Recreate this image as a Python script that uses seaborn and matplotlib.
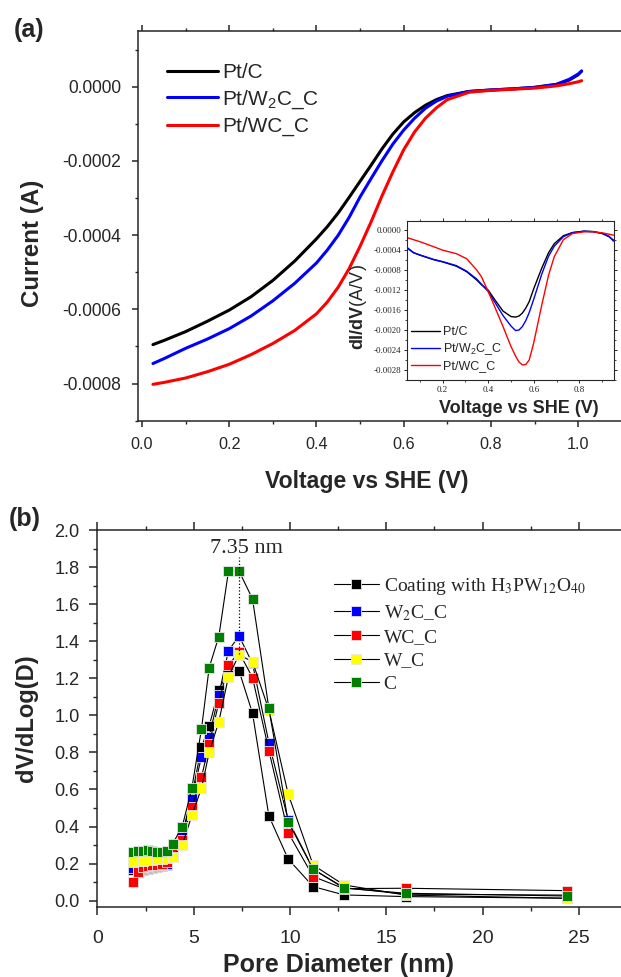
import numpy as np
import pandas as pd
import matplotlib
matplotlib.use("Agg")
import matplotlib.pyplot as plt
import seaborn as sns
from matplotlib.ticker import MultipleLocator, FuncFormatter
from matplotlib.font_manager import FontProperties, fontManager

sns.set_theme(style="ticks")
names = {f.name for f in fontManager.ttflist}
NARROW = "Liberation Sans Narrow" if "Liberation Sans Narrow" in names else "Liberation Sans"
SHRINK = 1.0 if NARROW == "Liberation Sans Narrow" else 0.87
plt.rcParams['font.family'] = ['Liberation Sans', 'DejaVu Sans']
plt.rcParams['axes.unicode_minus'] = False
plt.rcParams['mathtext.fontset'] = 'custom'
plt.rcParams['mathtext.rm'] = 'Liberation Sans'
plt.rcParams['mathtext.bf'] = 'Liberation Sans:bold'

# ---------------- panel (a) data: polarization curves ----------------
volt = [0.025, 0.05, 0.1, 0.15, 0.2, 0.25, 0.3, 0.35, 0.4, 0.425, 0.45, 0.475, 0.5,
        0.525, 0.55, 0.575, 0.6, 0.625, 0.65, 0.675, 0.7, 0.75, 0.8, 0.85, 0.9,
        0.95, 0.98, 1.0, 1.008]
cur_ptc = [-6.95e-4, -6.84e-4, -6.60e-4, -6.32e-4, -6.02e-4, -5.66e-4, -5.22e-4, -4.70e-4,
           -4.10e-4, -3.77e-4, -3.40e-4, -2.98e-4, -2.55e-4, -2.12e-4, -1.68e-4, -1.28e-4,
           -9.5e-5, -7.0e-5, -5.0e-5, -3.5e-5, -2.4e-5, -1.3e-5, -9e-6, -6e-6, -2e-6,
           6e-6, 1.8e-5, 3.2e-5, 4.2e-5]
cur_w2c = [-7.46e-4, -7.33e-4, -7.05e-4, -6.80e-4, -6.52e-4, -6.18e-4, -5.77e-4, -5.30e-4,
           -4.75e-4, -4.40e-4, -4.00e-4, -3.52e-4, -2.97e-4, -2.48e-4, -2.00e-4, -1.55e-4,
           -1.17e-4, -8.5e-5, -5.8e-5, -3.9e-5, -2.6e-5, -1.3e-5, -9e-6, -6e-6, -2e-6,
           6e-6, 2.0e-5, 3.4e-5, 4.2e-5]
cur_wc = [-8.02e-4, -7.97e-4, -7.85e-4, -7.68e-4, -7.48e-4, -7.22e-4, -6.92e-4, -6.57e-4,
          -6.12e-4, -5.80e-4, -5.40e-4, -4.90e-4, -4.30e-4, -3.65e-4, -2.95e-4, -2.30e-4,
          -1.70e-4, -1.22e-4, -8.5e-5, -5.7e-5, -3.5e-5, -1.5e-5, -1.0e-5, -7e-6, -4e-6,
          2e-6, 8e-6, 1.3e-5, 1.6e-5]

# inset: dI/dV
v_in = [0.045, 0.072, 0.1, 0.13, 0.16, 0.2, 0.26, 0.305, 0.35, 0.37, 0.4, 0.43, 0.465,
        0.5, 0.52, 0.535, 0.55, 0.565, 0.58, 0.6, 0.635, 0.665, 0.69, 0.73, 0.77, 0.82,
        0.86, 0.9, 0.93, 0.95]
didv_ptc = [-3.6e-4, -4.5e-4, -5.0e-4, -5.45e-4, -5.9e-4, -6.35e-4, -7.2e-4, -8.3e-4,
            -1.0e-3, -1.09e-3, -1.2e-3, -1.40e-3, -1.62e-3, -1.73e-3, -1.74e-3, -1.72e-3,
            -1.66e-3, -1.56e-3, -1.43e-3, -1.17e-3, -0.76e-3, -0.45e-3, -0.27e-3, -1.1e-4,
            -4.7e-5, -2.0e-5, -2.7e-5, -6.7e-5, -1.3e-4, -2.0e-4]
didv_w2c = [-3.5e-4, -4.5e-4, -4.95e-4, -5.4e-4, -5.85e-4, -6.3e-4, -7.1e-4, -8.2e-4,
            -9.8e-4, -1.08e-3, -1.23e-3, -1.45e-3, -1.71e-3, -1.92e-3, -2.01e-3, -2.00e-3,
            -1.93e-3, -1.81e-3, -1.65e-3, -1.38e-3, -0.88e-3, -0.52e-3, -0.32e-3, -1.3e-4,
            -5.0e-5, -2.0e-5, -3.0e-5, -6.0e-5, -1.2e-4, -2.2e-4]
didv_wc = [-1.5e-4, -1.9e-4, -2.3e-4, -2.8e-4, -3.3e-4, -4.0e-4, -4.7e-4, -5.7e-4,
           -8.0e-4, -9.3e-4, -1.23e-3, -1.55e-3, -1.93e-3, -2.33e-3, -2.52e-3, -2.64e-3,
           -2.70e-3, -2.69e-3, -2.60e-3, -2.25e-3, -1.50e-3, -0.90e-3, -0.53e-3, -1.9e-4,
           -6.7e-5, -3.3e-5, -3.3e-5, -5.3e-5, -8.0e-5, -1.0e-4]

# ---------------- panel (b) data: pore size distribution ----------------
pore = [1.85, 2.1, 2.35, 2.6, 2.85, 3.1, 3.35, 3.6, 3.9, 4.4, 4.9, 5.4, 5.8, 6.3, 6.8,
        7.35, 8.05, 8.9, 9.9, 11.2, 12.8, 16.0, 24.4]
dv_coat = [0.165, 0.16, 0.165, 0.17, 0.175, 0.18, 0.185, 0.19, 0.24, 0.36, 0.565, 0.828,
           0.943, 1.137, 1.24, 1.241, 1.011, 0.457, 0.225, 0.076, 0.031, 0.022, 0.013]
dv_w2c = [0.175, 0.17, 0.175, 0.18, 0.185, 0.19, 0.195, 0.2, 0.25, 0.345, 0.55, 0.777,
          0.885, 1.11, 1.349, 1.428, 1.28, 0.853, 0.435, 0.17, 0.07, 0.035, 0.03]
dv_wc = [0.103, 0.157, 0.18, 0.185, 0.19, 0.195, 0.2, 0.21, 0.265, 0.33, 0.504, 0.666,
         0.846, 1.069, 1.272, 1.34, 1.204, 0.81, 0.367, 0.13, 0.065, 0.067, 0.054]
dv_w = [0.21, 0.215, 0.215, 0.22, 0.22, 0.225, 0.225, 0.23, 0.237, 0.30, 0.46, 0.607,
        0.80, 0.966, 1.209, 1.326, 1.29, 1.029, 0.576, 0.192, 0.085, 0.03, 0.013]
dv_c = [0.262, 0.27, 0.268, 0.275, 0.27, 0.265, 0.265, 0.27, 0.306, 0.40, 0.607, 0.927,
        1.258, 1.425, 1.777, 1.779, 1.628, 1.038, 0.427, 0.169, 0.068, 0.04, 0.025]
peak_d = 7.35

fig = plt.figure(figsize=(6.21, 9.77), dpi=100)

# ================= (a) main =================
ax = fig.add_axes([0.2217, 0.5694, 0.7795, 0.3989])
for y, c, lab in [(cur_ptc, 'black', 'Pt/C'), (cur_w2c, '#0000ff', r'Pt/W$_2$C_C'),
                  (cur_wc, '#ff0000', 'Pt/WC_C')]:
    sns.lineplot(x=volt, y=y, color=c, lw=2.2, label=lab, ax=ax, sort=False)
ax.set_xlim(-0.01, 1.1)
ax.set_ylim(-0.0009, 0.00015)
ax.xaxis.set_major_locator(MultipleLocator(0.2))
ax.xaxis.set_minor_locator(MultipleLocator(0.1))
ax.yaxis.set_major_locator(MultipleLocator(0.0002))
ax.yaxis.set_minor_locator(MultipleLocator(0.0001))
ax.yaxis.set_major_formatter(FuncFormatter(lambda v, p: "0.0000" if abs(v) < 1e-12 else f"{v:.4f}"))
ax.xaxis.set_major_formatter(FuncFormatter(lambda v, p: f"{v:.1f}"))
ax.spines['right'].set_visible(False)
for s in ax.spines.values():
    s.set_linewidth(1.1)
ax.tick_params(which='major', direction='out', length=4, width=1.1, top=True)
ax.tick_params(which='minor', direction='out', length=2.5, width=1.0, top=True)
ax.tick_params(axis='y', which='major', pad=8)
ax.tick_params(axis='x', which='major', pad=8)
for t in ax.get_yticklabels():
    t.set_fontfamily(NARROW); t.set_fontsize(14.5 * SHRINK)
for t in ax.get_xticklabels():
    t.set_fontfamily(NARROW); t.set_fontsize(13.5 * SHRINK)
ax.set_xlabel(''); ax.set_ylabel('')
ax.legend(loc='upper left', bbox_to_anchor=(0.2684, 0.9355), bbox_transform=fig.transFigure,
          frameon=False, fontsize=15, handlelength=2.45, handletextpad=0.2,
          labelspacing=0.3, borderpad=0, borderaxespad=0)

# ================= (a) inset =================
axi = fig.add_axes([0.6559, 0.6111, 0.3328, 0.1630])
for y, c, lab in [(didv_ptc, 'black', 'Pt/C'), (didv_w2c, '#0000ff', r'Pt/W$_2$C_C'),
                  (didv_wc, '#ff0000', 'Pt/WC_C')]:
    sns.lineplot(x=v_in, y=y, color=c, lw=1.0, label=lab, ax=axi, sort=False)
axi.set_xlim(0.045, 0.952)
axi.set_ylim(-0.0030, 0.00019)
axi.xaxis.set_major_locator(MultipleLocator(0.2))
axi.xaxis.set_minor_locator(MultipleLocator(0.1))
axi.yaxis.set_major_locator(MultipleLocator(0.0004))
axi.yaxis.set_minor_locator(MultipleLocator(0.0002))
axi.yaxis.set_major_formatter(FuncFormatter(lambda v, p: "0.0000" if abs(v) < 1e-12 else f"{v:.4f}"))
axi.xaxis.set_major_formatter(FuncFormatter(lambda v, p: f"{v:.1f}"))
for s in axi.spines.values():
    s.set_linewidth(0.8)
axi.tick_params(which='major', direction='out', length=2.5, width=0.7, pad=2, top=True, right=True)
axi.tick_params(which='minor', direction='out', length=1.5, width=0.6, top=True, right=True)
for t in axi.get_xticklabels() + axi.get_yticklabels():
    t.set_fontfamily('Liberation Serif'); t.set_fontsize(6.5)
axi.set_xlabel(''); axi.set_ylabel('')
axi.legend(loc='upper left', bbox_to_anchor=(0.6618, 0.6663), bbox_transform=fig.transFigure,
           frameon=False, fontsize=9, handlelength=2.3, handletextpad=0.3,
           labelspacing=0.25, borderpad=0, borderaxespad=0)

fig.text(0.0467, 0.9693, '(a)', fontsize=18, fontweight='bold', ha='center', va='center')
fig.text(0.0531, 0.7508, 'Current (A)', fontsize=20 * SHRINK, fontweight='bold', family=NARROW,
         rotation=90, ha='center', va='center')
fig.text(0.591, 0.5067, 'Voltage vs SHE (V)', fontsize=19 * SHRINK, fontweight='bold',
         family=NARROW, ha='center', va='center')
fig.text(0.8355, 0.5814, 'Voltage vs SHE (V)', fontsize=13, fontweight='bold',
         ha='center', va='center')
fig.text(0.578, 0.6858, r'$\mathbf{dI/dV}$(A/V)', fontsize=13, rotation=90,
         ha='center', va='center')

# ================= (b) =================
axb = fig.add_axes([0.157, 0.0713, 0.845, 0.3862])
series_b = [(dv_coat, 'black', r'Coating with H$_3$PW$_{12}$O$_{40}$'),
            (dv_w2c, '#0000ff', r'W$_2$C_C'),
            (dv_wc, '#ff0000', 'WC_C'),
            (dv_w, '#ffff00', 'W_C'),
            (dv_c, '#008000', 'C')]
for y, c, lab in series_b:
    sns.lineplot(x=pore, y=y, color='black', lw=0.8, marker='s', markersize=7,
                 markerfacecolor=c, markeredgecolor='#e6e6e6', markeredgewidth=0.6,
                 label=lab, ax=axb, sort=False)
axb.plot([peak_d, peak_d], [1.33, 1.855], ls=':', color='black', lw=0.9)
axb.text(peak_d + 0.4, 1.90, '7.35 nm', fontsize=16, family='Liberation Serif',
         ha='center', va='center')
axb.set_xlim(0, 27.25)
axb.set_ylim(-0.036, 2.0)
axb.xaxis.set_major_locator(MultipleLocator(5))
axb.xaxis.set_minor_locator(MultipleLocator(2.5))
axb.yaxis.set_major_locator(MultipleLocator(0.2))
axb.yaxis.set_minor_locator(MultipleLocator(0.1))
axb.yaxis.set_major_formatter(FuncFormatter(lambda v, p: f"{v:.1f}"))
axb.spines['right'].set_visible(False)
for s in axb.spines.values():
    s.set_linewidth(1.1)
axb.tick_params(which='major', direction='out', length=6, width=1.1, top=True)
axb.tick_params(which='minor', direction='out', length=3, width=1.0, top=True)
axb.tick_params(axis='y', which='major', pad=7)
axb.tick_params(axis='x', which='major', pad=10)
for t in axb.get_yticklabels():
    t.set_fontfamily(NARROW); t.set_fontsize(14 * (0.93 if SHRINK < 1 else 1))
for t in axb.get_xticklabels():
    t.set_fontfamily(NARROW); t.set_fontsize(15 * (0.93 if SHRINK < 1 else 1))
axb.set_xlabel(''); axb.set_ylabel('')
axb.legend(loc='upper left', bbox_to_anchor=(0.538, 0.4104), bbox_transform=fig.transFigure,
           frameon=False, prop=FontProperties(family='Liberation Serif', size=14,
                                              math_fontfamily='stix'),
           handlelength=2.3, handletextpad=0.25, labelspacing=0.3, borderpad=0,
           borderaxespad=0, numpoints=1)

fig.text(0.0403, 0.4688, '(b)', fontsize=18, fontweight='bold', ha='center', va='center')
fig.text(0.043, 0.265, 'dV/dLog(D)', fontsize=17, fontweight='bold', rotation=90,
         ha='center', va='center')
fig.text(0.5448, 0.0123, 'Pore Diameter (nm)', fontsize=18, fontweight='bold',
         ha='center', va='center')

fig.savefig('out.png', dpi=100)
